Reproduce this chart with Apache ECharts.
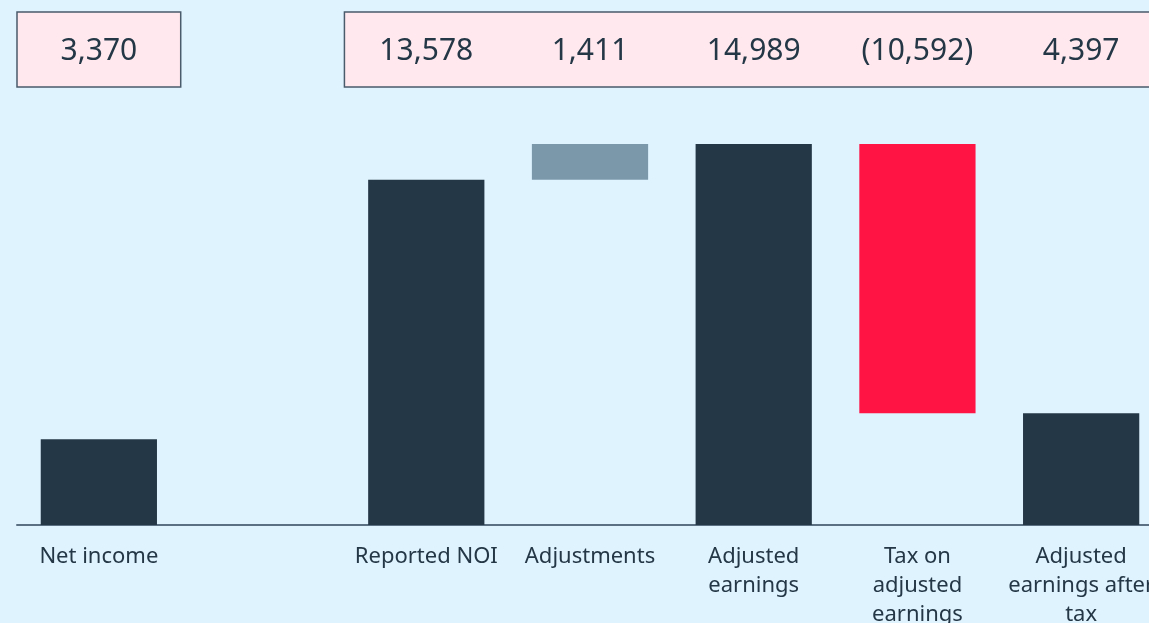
<!DOCTYPE html>
<html>
<head>
<meta charset="utf-8">
<script src="https://cdn.jsdelivr.net/npm/echarts@6/dist/echarts.min.js"></script>
<style>
  html, body { margin: 0; padding: 0; background: #def3fe; }
  #chart { width: 1149px; height: 623px; }
</style>
</head>
<body>
<div id="chart"></div>
<script>
// categories (blank slot between net income and reported NOI)
const categories = ['Net income', '', 'Reported NOI', 'Adjustments', 'Adjusted\nearnings', 'Tax on\nadjusted\nearnings', 'Adjusted\nearnings after\ntax']
// signed values as shown in the boxes
const values = [3370, null, 13578, 1411, 14989, -10592, 4397]
// 'total' bars stand on zero, 'delta' bars float from the running total
const kinds = ['total', null, 'total', 'delta', 'total', 'delta', 'total']
const barColors = ['#243746', null, '#243746', '#7b98aa', '#243746', '#ff1444', '#243746']
// boxes on top: [first category, last category]
const boxGroups = [[0, 0], [2, 6]]

const textColor = '#243746'
const font = '"Noto Sans", "Open Sans", sans-serif'

// 把数值格式化成 3,370 / (10,592)
const fmt = (v) => {
  const s = Math.abs(v).toLocaleString('en-US')
  return v < 0 ? '(' + s + ')' : s
}

// 计算浮动柱的底部
const bases = []
const heights = []
let running = 0
values.forEach((v, i) => {
  if (v === null) {
    bases.push(null)
    heights.push(null)
    return
  }
  if (kinds[i] === 'total') {
    bases.push(0)
    heights.push(v)
    running = v
  } else {
    const next = running + v
    bases.push(Math.min(running, next))
    heights.push(Math.abs(v))
    running = next
  }
})

const chart = echarts.init(document.getElementById('chart'))

const option = {
  backgroundColor: '#def3fe',
  animation: false,
  grid: [
    { left: 17, right: -14, top: 144, bottom: 98, containLabel: false, outerBoundsMode: 'none' },
    { left: 17, right: -14, top: 12, height: 75, containLabel: false, outerBoundsMode: 'none' },
  ],
  xAxis: [
    {
      type: 'category',
      gridIndex: 0,
      data: categories,
      axisLine: { lineStyle: { color: '#5b7183', width: 2 } },
      axisTick: { show: false },
      axisLabel: {
        color: textColor,
        fontFamily: font,
        fontSize: 22,
        lineHeight: 29,
        margin: 17,
        interval: 0,
      },
    },
    {
      type: 'category',
      gridIndex: 1,
      data: categories,
      show: false,
    },
  ],
  yAxis: [
    { type: 'value', gridIndex: 0, min: 0, max: 14989, show: false },
    { type: 'value', gridIndex: 1, min: 0, max: 1, show: false },
  ],
  series: [
    {
      type: 'bar',
      stack: 'wf',
      xAxisIndex: 0,
      yAxisIndex: 0,
      barWidth: '71%',
      itemStyle: { color: 'transparent' },
      data: bases,
      silent: true,
    },
    {
      type: 'bar',
      stack: 'wf',
      xAxisIndex: 0,
      yAxisIndex: 0,
      barWidth: '71%',
      data: heights.map((h, i) => ({ value: h, itemStyle: { color: barColors[i] } })),
    },
    // 顶部方框
    {
      type: 'custom',
      xAxisIndex: 1,
      yAxisIndex: 1,
      data: boxGroups,
      encode: { x: [0, 1] },
      renderItem: (params, api) => {
        const bw = api.size([1, 0])[0]
        const p0 = api.coord([api.value(0), 1])
        const p1 = api.coord([api.value(1), 0])
        return {
          type: 'rect',
          shape: { x: p0[0] - bw / 2, y: p0[1], width: p1[0] - p0[0] + bw, height: p1[1] - p0[1] },
          style: { fill: '#ffe9ee', stroke: '#4a5b6b', lineWidth: 1.5 },
        }
      },
    },
    // 方框里的数值
    {
      type: 'custom',
      xAxisIndex: 1,
      yAxisIndex: 1,
      data: values.map((v, i) => [i, 0.5, v]).filter((d) => d[2] !== null),
      renderItem: (params, api) => {
        const p = api.coord([api.value(0), api.value(1)])
        return {
          type: 'text',
          style: {
            x: p[0],
            y: p[1] + 2,
            text: fmt(api.value(2)),
            fill: textColor,
            font: '30px ' + font,
            align: 'center',
            verticalAlign: 'middle',
          },
        }
      },
    },
  ],
}

chart.setOption(option)
</script>
</body>
</html>
